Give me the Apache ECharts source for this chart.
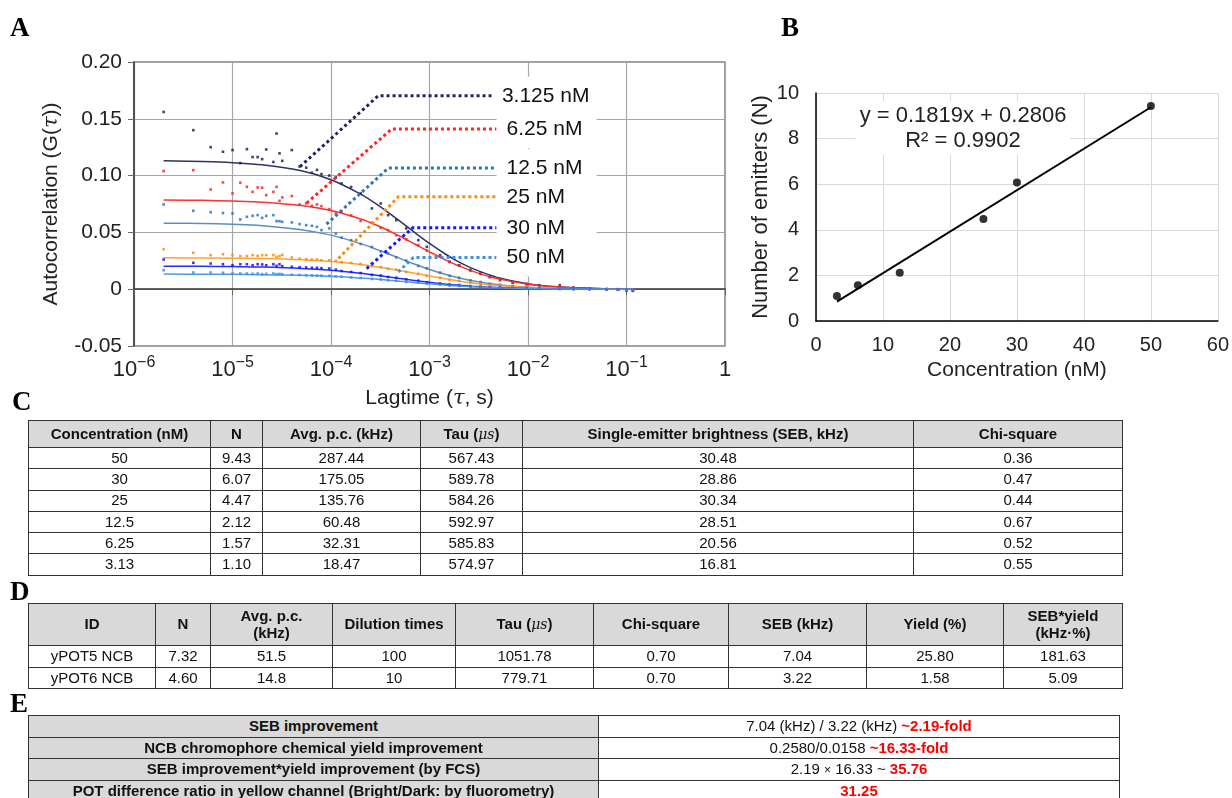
<!DOCTYPE html>
<html>
<head>
<meta charset="utf-8">
<script src="https://cdn.jsdelivr.net/npm/echarts@6/dist/echarts.min.js"></script>
<style>
  html, body { margin: 0; padding: 0; background: #fff; }
  #page { position: relative; width: 1232px; height: 798px; overflow: hidden; }
  #chart { position: absolute; left: 0; top: 0; width: 1232px; height: 798px; }
  .tag { position: absolute; font: bold 27px "Liberation Serif", "Times New Roman", serif; color: #000; line-height: 1; }
  table { position: absolute; border-collapse: collapse; table-layout: fixed;
          font-family: "Liberation Sans", Arial, sans-serif; font-size: 15px; color: #111; }
  td, th { border: 1.5px solid #333; text-align: center; padding: 0; line-height: 1.1; white-space: nowrap; overflow: hidden; }
  th { background: #d9d9d9; font-weight: bold; }
  td.lab { background: #d9d9d9; font-weight: bold; }
  .red { color: #ff0000; font-weight: bold; }
  .mu { font-family: "DejaVu Serif", serif; font-style: italic; font-weight: normal; font-size: 14px; }
  .times { font-size: 12px; }
</style>
</head>
<body>
<div id="page">
  <div id="chart"></div>
  <div class="tag" style="left:12px;top:388px;">C</div>
  <div class="tag" style="left:10px;top:578px;">D</div>
  <div class="tag" style="left:10px;top:690px;">E</div>
  <table id="tableC" style="left:28px;top:420px;width:1094px;"></table>
  <table id="tableD" style="left:28px;top:603px;width:1094px;"></table>
  <table id="tableE" style="left:28px;top:715px;width:1091px;"></table>
</div>
<script>
// ---------- Panel A: FCS autocorrelation curves ----------
const seriesNames = ['3.125 nM', '6.25 nM', '12.5 nM', '25 nM', '30 nM', '50 nM'];

// lag times of the fitted curves (s)
const tauFit = [2e-6, 5e-6, 1e-5, 2e-5, 5e-5, 1e-4, 2e-4, 3e-4, 5e-4, 7e-4, 1e-3,
                1.5e-3, 2e-3, 3e-3, 5e-3, 1e-2, 2e-2, 5e-2, 0.12];
const fit3125 = [0.1130, 0.1124, 0.1114, 0.1095, 0.1042, 0.0964, 0.0837, 0.0740, 0.0599, 0.0502, 0.0403,
                 0.0301, 0.0239, 0.0168, 0.0102, 0.0048, 0.0021, 0.0006, 0.0002];
const fit625  = [0.0785, 0.0782, 0.0776, 0.0766, 0.0737, 0.0693, 0.0618, 0.0558, 0.0466, 0.0400, 0.0329,
                 0.0252, 0.0204, 0.0146, 0.0091, 0.0044, 0.0020, 0.0006, 0.0002];
const fit125  = [0.0581, 0.0578, 0.0571, 0.0559, 0.0524, 0.0476, 0.0401, 0.0346, 0.0271, 0.0222, 0.0174,
                 0.0127, 0.0099, 0.0068, 0.0040, 0.0018, 0.0008, 0.0002, 0.0001];
const fit25   = [0.0276, 0.0275, 0.0273, 0.0270, 0.0259, 0.0244, 0.0218, 0.0196, 0.0164, 0.0141, 0.0116,
                 0.0089, 0.0072, 0.0051, 0.0032, 0.0016, 0.0007, 0.0002, 0.0001];
const fit30   = [0.0203, 0.0202, 0.0199, 0.0195, 0.0183, 0.0166, 0.0140, 0.0121, 0.0095, 0.0077, 0.0061,
                 0.0044, 0.0035, 0.0024, 0.0014, 0.0006, 0.0003, 0.0001, 0.0000];
const fit50   = [0.0133, 0.0132, 0.0131, 0.0128, 0.0122, 0.0113, 0.0098, 0.0087, 0.0070, 0.0059, 0.0047,
                 0.0035, 0.0028, 0.0020, 0.0012, 0.0006, 0.0002, 0.0001, 0.0000];

// lag times of the measured correlation points (s)
const tauPts = [2.0e-6, 4.0e-6, 6.0e-6, 8.0e-6, 1.0e-5, 1.2e-5, 1.4e-5, 1.6e-5, 1.8e-5, 2.0e-5,
                2.2e-5, 2.6e-5, 2.8e-5, 3.0e-5, 3.2e-5, 4.0e-5, 4.8e-5, 5.6e-5, 6.4e-5, 7.2e-5,
                8.0e-5, 9.6e-5, 1.12e-4, 1.28e-4, 1.6e-4, 2.0e-4, 2.6e-4, 3.2e-4, 3.8e-4, 4.6e-4,
                5.8e-4, 7.7e-4, 9.4e-4, 1.28e-3, 1.6e-3, 2.0e-3, 2.6e-3, 3.3e-3, 4.1e-3, 5.2e-3,
                7.0e-3, 9.7e-3, 1.3e-2, 2.1e-2, 2.9e-2, 4.2e-2, 6.3e-2, 8.2e-2, 0.100, 0.116];
const pts3125 = [0.156, 0.140, 0.125, 0.121, 0.1225, 0.111, 0.1233, 0.1163, 0.1163, 0.1145,
                 0.123, 0.112, 0.137, 0.1196, 0.113, 0.1225, 0.108, 0.107, 0.1025, 0.105,
                 0.1013, 0.100, 0.0984, 0.0931, 0.090, 0.0843, 0.0711, 0.0755, 0.0652, 0.0608,
                 0.0535, 0.0432, 0.0373, 0.0300, 0.0241, 0.0211, 0.0170, 0.0138, 0.0109, 0.0080,
                 0.0056, 0.0044, 0.0035, 0.0035, 0.0015, 0.0006, -0.0003, -0.0005, -0.0009, -0.0015];
const pts625  = [0.104, 0.1048, 0.0878, 0.094, 0.0843, 0.0937, 0.0901, 0.0857, 0.0896, 0.0893,
                 0.0828, 0.0857, 0.0901, 0.0778, 0.0808, 0.082, 0.0746, 0.0755, 0.0734, 0.0746,
                 0.0731, 0.0705, 0.0667, 0.0681, 0.0650, 0.0601, 0.0585, 0.0540, 0.0520, 0.0475,
                 0.0440, 0.0388, 0.0340, 0.0290, 0.0240, 0.0207, 0.0162, 0.0136, 0.0105, 0.0088,
                 0.0062, 0.0047, 0.0030, 0.0020, 0.0012, 0.0008, 0.0002, 0.0001, -0.0012, -0.0010];
const pts125  = [0.0746, 0.069, 0.0678, 0.067, 0.0667, 0.0614, 0.0637, 0.0646, 0.0652, 0.0628,
                 0.0646, 0.0652, 0.0599, 0.0599, 0.0593, 0.0588, 0.0573, 0.0564, 0.0558, 0.0549,
                 0.052, 0.0535, 0.049, 0.0455, 0.0432, 0.0398, 0.0372, 0.0333, 0.0315, 0.0280,
                 0.0252, 0.0205, 0.0185, 0.0146, 0.0118, 0.0101, 0.0077, 0.0063, 0.0048, 0.0039,
                 0.0027, 0.0020, 0.0012, 0.0008, 0.0004, 0.0003, 0.0001, -0.0002, -0.0004, -0.0006];
const pts25   = [0.0352, 0.032, 0.030, 0.0308, 0.030, 0.0291, 0.0291, 0.030, 0.0294, 0.030,
                 0.030, 0.030, 0.0285, 0.0291, 0.0302, 0.0279, 0.027, 0.0264, 0.0261, 0.0261,
                 0.0255, 0.0255, 0.0250, 0.0238, 0.0231, 0.0222, 0.0203, 0.0195, 0.0180, 0.0172,
                 0.0152, 0.0136, 0.0118, 0.0101, 0.0083, 0.0074, 0.0057, 0.0048, 0.0038, 0.0033,
                 0.0023, 0.0018, 0.0011, 0.0008, 0.0004, 0.0002, 0.0000, -0.0001, -0.0003, -0.0002];
const pts30   = [0.0261, 0.0232, 0.0226, 0.022, 0.0211, 0.022, 0.022, 0.0211, 0.022, 0.0218,
                 0.0211, 0.022, 0.0205, 0.022, 0.0203, 0.0197, 0.0193, 0.0191, 0.0188, 0.0188,
                 0.0185, 0.0182, 0.0172, 0.0160, 0.0152, 0.0142, 0.0126, 0.0120, 0.0108, 0.0101,
                 0.0086, 0.0075, 0.0062, 0.0051, 0.0041, 0.0036, 0.0026, 0.0023, 0.0016, 0.0014,
                 0.0009, 0.0008, 0.0004, 0.0003, 0.0001, 0.0001, -0.0001, -0.0002, -0.0003, -0.0004];
const pts50   = [0.0167, 0.0147, 0.0147, 0.0144, 0.0138, 0.0138, 0.0138, 0.0135, 0.0138, 0.0132,
                 0.0135, 0.0138, 0.0132, 0.0135, 0.0132, 0.0127, 0.0125, 0.0122, 0.0122, 0.012,
                 0.0119, 0.0117, 0.0113, 0.0110, 0.0103, 0.0099, 0.0090, 0.0086, 0.0078, 0.0074,
                 0.0064, 0.0057, 0.0048, 0.0041, 0.0032, 0.0029, 0.0021, 0.0018, 0.0013, 0.0012,
                 0.0007, 0.0006, 0.0003, 0.0002, 0.0001, 0.0000, -0.0001, -0.0002, -0.0002, -0.0003];

// dotted leader lines joining each curve to its name: [lag time, G] vertices
const lead3125 = [[4.84e-5, 0.1078], [3.02e-4, 0.1703], [4.3e-3, 0.1703]];
const lead625  = [[5.66e-5, 0.0758], [4.13e-4, 0.1410], [4.8e-3, 0.1410]];
const lead125  = [[9.0e-5, 0.0573], [3.82e-4, 0.1066], [4.8e-3, 0.1066]];
const lead25   = [[1.19e-4, 0.0270], [4.82e-4, 0.0813], [4.8e-3, 0.0813]];
const lead30   = [[2.3e-4, 0.0182], [6.74e-4, 0.0540], [4.8e-3, 0.0540]];
const lead50   = [[4.82e-4, 0.0152], [6.86e-4, 0.0279], [4.8e-3, 0.0279]];

const dotColors  = ['#1f2557', '#ff2424', '#2f74b5', '#ff8a0a', '#1414ff', '#3d8fe6'];
const lineColors = ['#2c3366', '#ff3030', '#5a8fc4', '#ffa133', '#2a2aff', '#4c98ea'];

// ---------- Panel B: emitters vs concentration ----------
const concB = [50, 30, 25, 12.5, 6.25, 3.125];
const slope = 0.1819;
const intercept = 0.2806;
const rSquared = '0.9902';

// ---------- Table C ----------
const headC = ['Concentration (nM)', 'N', 'Avg. p.c. (kHz)', 'Tau (<span class="mu">μs</span>)',
               'Single-emitter brightness (SEB, kHz)', 'Chi-square'];
const concC  = ['50', '30', '25', '12.5', '6.25', '3.13'];
const nC     = [9.43, 6.07, 4.47, 2.12, 1.57, 1.10];
const avgPcC = [287.44, 175.05, 135.76, 60.48, 32.31, 18.47];
const tauC   = [567.43, 589.78, 584.26, 592.97, 585.83, 574.97];
const sebC   = [30.48, 28.86, 30.34, 28.51, 20.56, 16.81];
const chiC   = [0.36, 0.47, 0.44, 0.67, 0.52, 0.55];

// ---------- Table D ----------
const headD = ['ID', 'N', 'Avg. p.c.<br>(kHz)', 'Dilution times', 'Tau (<span class="mu">μs</span>)',
               'Chi-square', 'SEB (kHz)', 'Yield (%)', 'SEB*yield<br>(kHz·%)'];
const idD       = ['yPOT5 NCB', 'yPOT6 NCB'];
const nD        = [7.32, 4.60];
const avgPcD    = ['51.5', '14.8'];
const dilutionD = [100, 10];
const tauD      = [1051.78, 779.71];
const chiD      = [0.70, 0.70];
const sebD      = [7.04, 3.22];
const yieldD    = [25.80, 1.58];
const sebYieldD = [181.63, 5.09];

// ---------- Table E ----------
const labelsE = ['SEB improvement',
                 'NCB chromophore chemical yield improvement',
                 'SEB improvement*yield improvement (by FCS)',
                 'POT difference ratio in yellow channel (Bright/Dark: by fluorometry)'];
const plainE  = ['7.04 (kHz) / 3.22 (kHz) ', '0.2580/0.0158 ', '2.19 <span class="times">×</span> 16.33 ~ ', ''];
const redE    = ['~2.19-fold', '~16.33-fold', '35.76', '31.25'];

// ---------- build tables ----------
function colgroup(widths) {
  return '<colgroup>' + widths.map(w => '<col style="width:' + w + 'px">').join('') + '</colgroup>';
}
(function () {
  let h = colgroup([182, 52, 158, 102, 391, 209]);
  h += '<tr style="height:27px">' + headC.map(t => '<th>' + t + '</th>').join('') + '</tr>';
  for (let i = 0; i < concC.length; i++) {
    h += '<tr style="height:21.3px"><td>' + concC[i] + '</td><td>' + nC[i].toFixed(2) + '</td><td>' +
         avgPcC[i].toFixed(2) + '</td><td>' + tauC[i].toFixed(2) + '</td><td>' + sebC[i].toFixed(2) +
         '</td><td>' + chiC[i].toFixed(2) + '</td></tr>';
  }
  document.getElementById('tableC').innerHTML = h;

  let d = colgroup([127, 55, 122, 123, 138, 135, 138, 137, 119]);
  d += '<tr style="height:42px">' + headD.map(t => '<th>' + t + '</th>').join('') + '</tr>';
  for (let i = 0; i < idD.length; i++) {
    d += '<tr style="height:21.7px"><td>' + idD[i] + '</td><td>' + nD[i].toFixed(2) + '</td><td>' +
         avgPcD[i] + '</td><td>' + dilutionD[i] + '</td><td>' + tauD[i].toFixed(2) + '</td><td>' +
         chiD[i].toFixed(2) + '</td><td>' + sebD[i].toFixed(2) + '</td><td>' + yieldD[i].toFixed(2) +
         '</td><td>' + sebYieldD[i].toFixed(2) + '</td></tr>';
  }
  document.getElementById('tableD').innerHTML = d;

  let e = colgroup([570, 521]);
  for (let i = 0; i < labelsE.length; i++) {
    e += '<tr style="height:21.7px"><td class="lab">' + labelsE[i] + '</td><td>' + plainE[i] +
         '<span class="red">' + redE[i] + '</span></td></tr>';
  }
  document.getElementById('tableE').innerHTML = e;
})();

// ---------- chart ----------
const FONT = '"Liberation Sans", Arial, sans-serif';
const fits = [fit3125, fit625, fit125, fit25, fit30, fit50];
const pts  = [pts3125, pts625, pts125, pts25, pts30, pts50];
const leads = [lead3125, lead625, lead125, lead25, lead30, lead50];

const series = [];
seriesNames.forEach((name, k) => {
  series.push({
    name: name + ' fit', type: 'line', xAxisIndex: 0, yAxisIndex: 0, z: 2,
    data: tauFit.map((t, i) => [t, fits[k][i]]),
    smooth: 0.35, showSymbol: false, silent: true,
    lineStyle: { color: lineColors[k], width: 1.5 }
  });
  series.push({
    name: name + ' data', type: 'scatter', xAxisIndex: 0, yAxisIndex: 0, z: 3,
    data: tauPts.map((t, i) => [t, pts[k][i]]),
    symbol: 'rect', symbolSize: 2.6, silent: true,
    itemStyle: { color: dotColors[k], opacity: 0.85 }
  });
});
seriesNames.forEach((name, k) => {
  series.push({
    name: name, type: 'line', xAxisIndex: 0, yAxisIndex: 0, z: 5,
    data: leads[k], showSymbol: false, symbol: 'none', silent: true,
    lineStyle: { color: dotColors[k], width: 3, type: [3, 3], cap: 'butt' },
    endLabel: {
      show: true, formatter: '{a}', distance: 0,
      color: '#111', fontSize: 21, fontFamily: FONT,
      backgroundColor: '#fff', padding: [7, 4, 7, 10], width: 86, lineHeight: 24
    }
  });
});

const xMin = Math.min(...concB), xMax = Math.max(...concB);
series.push({
  name: 'trend', type: 'line', xAxisIndex: 1, yAxisIndex: 1, z: 2,
  data: [[xMin, slope * xMin + intercept], [xMax, slope * xMax + intercept]],
  showSymbol: false, silent: true, lineStyle: { color: '#000', width: 2 }
});
series.push({
  name: 'N', type: 'scatter', xAxisIndex: 1, yAxisIndex: 1, z: 3,
  data: concB.map((c, i) => [c, nC[i]]),
  symbol: 'circle', symbolSize: 8, itemStyle: { color: '#000' }
});

const chart = echarts.init(document.getElementById('chart'), null, { renderer: 'canvas' });
chart.setOption({
  animation: false,
  textStyle: { fontFamily: FONT },
  grid: [
    { left: 134, top: 62, width: 591, height: 284, show: true, borderColor: '#808080', borderWidth: 1.5 },
    { left: 816, top: 93, width: 402, height: 228 }
  ],
  xAxis: [
    {
      gridIndex: 0, type: 'log', logBase: 10, min: 1e-6, max: 1, splitNumber: 6,
      axisLine: { lineStyle: { color: '#333', width: 1.5 } },
      axisTick: { show: true, length: 6, lineStyle: { color: '#666' } },
      splitLine: { show: true, lineStyle: { color: '#a6a6a6', width: 1.2 } },
      axisLabel: {
        margin: 9, showMinLabel: true, showMaxLabel: true,
        formatter: v => {
          const e = Math.round(Math.log10(v));
          return e === 0 ? '{b|1}' : '{b|10}{s|\u2212' + (-e) + '}';
        },
        rich: {
          b: { fontSize: 22, color: '#222', lineHeight: 26, verticalAlign: 'bottom', fontFamily: FONT },
          s: { fontSize: 16, color: '#222', lineHeight: 26, verticalAlign: 'top', fontFamily: FONT }
        }
      },
      name: 'Lagtime ({i|τ}, s)', nameLocation: 'middle', nameGap: 42,
      nameTextStyle: {
        fontSize: 21, color: '#222', fontFamily: FONT,
        rich: { i: { fontSize: 21, fontStyle: 'italic', fontFamily: '"DejaVu Serif", serif', color: '#222' } }
      }
    },
    {
      gridIndex: 1, type: 'value', min: 0, max: 60, interval: 10,
      axisLine: { lineStyle: { color: '#000', width: 1.5 } },
      axisTick: { show: false },
      splitLine: { show: true, lineStyle: { color: '#d9d9d9', width: 1 } },
      axisLabel: { fontSize: 20, color: '#222', margin: 14 },
      name: 'Concentration (nM)', nameLocation: 'middle', nameGap: 39,
      nameTextStyle: { fontSize: 21, color: '#222' }
    }
  ],
  yAxis: [
    {
      gridIndex: 0, type: 'value', min: -0.05, max: 0.2, interval: 0.05,
      axisLine: { show: true, lineStyle: { color: '#333', width: 1.5 } },
      axisTick: { show: true, length: 6, lineStyle: { color: '#666' } },
      splitLine: { show: true, lineStyle: { color: '#a6a6a6', width: 1.2 } },
      axisLabel: {
        fontSize: 21, color: '#222', margin: 12,
        formatter: v => (Math.abs(v) < 1e-9 ? '0' : v.toFixed(2))
      },
      name: 'Autocorrelation (G({i|τ}))', nameLocation: 'middle', nameGap: 72,
      nameTextStyle: {
        fontSize: 21, color: '#222', fontFamily: FONT,
        rich: { i: { fontSize: 21, fontStyle: 'italic', fontFamily: '"DejaVu Serif", serif', color: '#222' } }
      }
    },
    {
      gridIndex: 1, type: 'value', min: 0, max: 10, interval: 2,
      axisLine: { show: true, lineStyle: { color: '#000', width: 1.5 } },
      axisTick: { show: false },
      splitLine: { show: true, lineStyle: { color: '#d9d9d9', width: 1 } },
      axisLabel: { fontSize: 20, color: '#222', margin: 17 },
      name: 'Number of emitters (N)', nameLocation: 'middle', nameGap: 44,
      nameTextStyle: { fontSize: 22, color: '#222' }
    }
  ],
  graphic: [
    { type: 'text', left: 10, top: 16, style: { text: 'A', font: 'bold 27px "Liberation Serif", serif', fill: '#000' } },
    { type: 'text', left: 781, top: 16, style: { text: 'B', font: 'bold 27px "Liberation Serif", serif', fill: '#000' } },
    { type: 'text', x: 963, y: 128, z: 10,
      style: { text: 'y = ' + slope + 'x + ' + intercept + '\nR² = ' + rSquared,
               font: '22px ' + FONT, fill: '#222', lineHeight: 25,
               backgroundColor: '#fff', padding: [2, 4, 2, 4],
               align: 'center', verticalAlign: 'middle', textAlign: 'center', textVerticalAlign: 'middle' } }
  ],
  series: series
});
</script>
</body>
</html>
